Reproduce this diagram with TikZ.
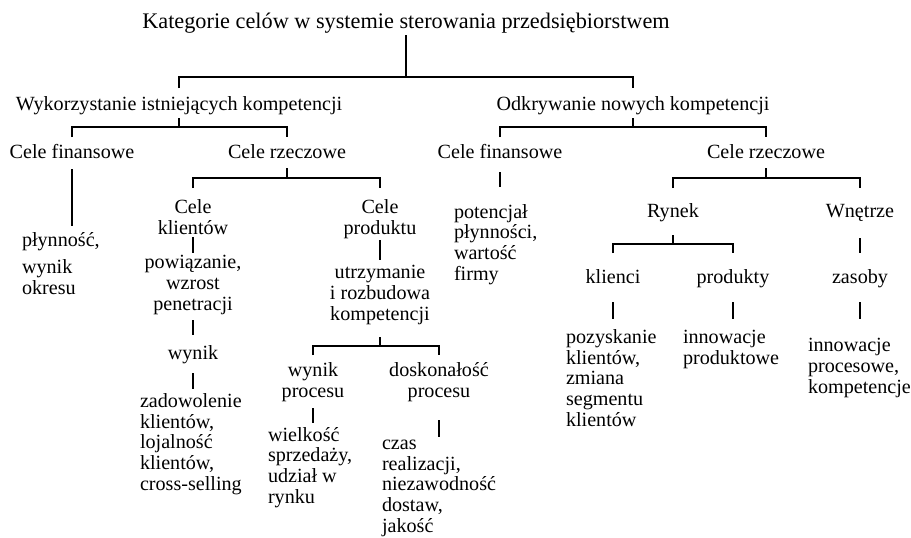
\documentclass[tikz,border=0pt]{standalone}
\usepackage{fontspec}
\setmainfont{Liberation Serif}
\begin{document}
\begin{tikzpicture}[x=0.75pt,y=-0.75pt,
  lbl/.style={inner sep=0pt,outer sep=0pt,anchor=base,align=center,
    font=\fontsize{15.1}{15.4}\selectfont},
  leaf/.style={lbl,anchor=base west,align=left},
  ttlstyle/.style={lbl,font=\fontsize{16.7}{18}\selectfont},
  conn/.style={line width=1.5pt,line join=miter}]
\useasboundingbox (0,0) rectangle (911,537);

% --- labels (multi-line labels are placed by the baseline of their last line) ---
\node[ttlstyle] (ttl) at (406,28) {Kategorie celów w systemie sterowania przedsiębiorstwem};
\node[lbl] (wyk) at (179,110) {Wykorzystanie istniejących kompetencji};
\node[lbl] (odk) at (633,110) {Odkrywanie nowych kompetencji};

\node[lbl] (cfa) at (72,158) {Cele finansowe};
\node[lbl] (cra) at (287,158) {Cele rzeczowe};
\node[lbl] (cfb) at (500,158) {Cele finansowe};
\node[lbl] (crb) at (766,158) {Cele rzeczowe};

\node[leaf] (plyn) at (22,294) {płynność,\\[4.5pt]wynik\\okresu};

\node[lbl] (ckl) at (193,234) {Cele\\klientów};
\node[lbl] (pow) at (193,310) {powiązanie,\\wzrost\\penetracji};
\node[lbl] (wyn) at (193,359) {wynik};
\node[leaf] (zad) at (140,490) {zadowolenie\\klientów,\\lojalność\\klientów,\\cross-selling};

\node[lbl] (cpr) at (380,234) {Cele\\produktu};
\node[lbl] (utr) at (380,320) {utrzymanie\\i rozbudowa\\kompetencji};
\node[lbl] (wpr) at (313,397) {wynik\\procesu};
\node[lbl] (dpr) at (439,397) {doskonałość\\procesu};
\node[leaf] (wie) at (268,503) {wielkość\\sprzedaży,\\udział w\\rynku};
\node[leaf] (cza) at (382,532) {czas\\realizacji,\\niezawodność\\dostaw,\\jakość};

\node[leaf] (pot) at (454,280) {potencjał\\płynności,\\wartość\\firmy};

\node[lbl] (ryn) at (673,217) {Rynek};
\node[lbl] (wne) at (860,217) {Wnętrze};
\node[lbl] (kli) at (613,283) {klienci};
\node[lbl] (pro) at (733,283) {produkty};
\node[lbl] (zas) at (860,283) {zasoby};
\node[leaf] (poz) at (566,426) {pozyskanie\\klientów,\\zmiana\\segmentu\\klientów};
\node[leaf] (inp) at (683,364) {innowacje\\produktowe};
\node[leaf] (ipc) at (808,393) {innowacje\\procesowe,\\kompetencje};

% --- connectors ---
\draw[conn] (ttl |- 0,35) -- (ttl |- 0,77);
\draw[conn] (wyk |- 0,88) -- (wyk |- 0,77) -- (odk |- 0,77) -- (odk |- 0,88);

\draw[conn] (wyk |- 0,118) -- (wyk |- 0,127);
\draw[conn] (cfa |- 0,137) -- (cfa |- 0,127) -- (cra |- 0,127) -- (cra |- 0,137);
\draw[conn] (odk |- 0,118) -- (odk |- 0,127);
\draw[conn] (cfb |- 0,137) -- (cfb |- 0,127) -- (crb |- 0,127) -- (crb |- 0,137);

\draw[conn] (cfa |- 0,169) -- (cfa |- 0,226);

\draw[conn] (cra |- 0,168) -- (cra |- 0,178);
\draw[conn] (ckl |- 0,188) -- (ckl |- 0,178) -- (cpr |- 0,178) -- (cpr |- 0,188);
\draw[conn] (ckl |- 0,237) -- (ckl |- 0,253);
\draw[conn] (pow |- 0,320) -- (pow |- 0,335);
\draw[conn] (wyn |- 0,373) -- (wyn |- 0,389);

\draw[conn] (cpr |- 0,240) -- (cpr |- 0,260);
\draw[conn] (utr |- 0,337) -- (utr |- 0,346);
\draw[conn] (wpr |- 0,355) -- (wpr |- 0,346) -- (dpr |- 0,346) -- (dpr |- 0,355);
\draw[conn] (wpr |- 0,408) -- (wpr |- 0,423);
\draw[conn] (dpr |- 0,420) -- (dpr |- 0,437);

\draw[conn] (cfb |- 0,172) -- (cfb |- 0,187);

\draw[conn] (crb |- 0,168) -- (crb |- 0,178);
\draw[conn] (ryn |- 0,188) -- (ryn |- 0,178) -- (wne |- 0,178) -- (wne |- 0,188);
\draw[conn] (ryn |- 0,235) -- (ryn |- 0,244);
\draw[conn] (kli |- 0,253) -- (kli |- 0,244) -- (pro |- 0,244) -- (pro |- 0,253);
\draw[conn] (wne |- 0,238) -- (wne |- 0,253);
\draw[conn] (kli |- 0,302) -- (kli |- 0,319);
\draw[conn] (pro |- 0,302) -- (pro |- 0,319);
\draw[conn] (zas |- 0,302) -- (zas |- 0,319);
\end{tikzpicture}
\end{document}
